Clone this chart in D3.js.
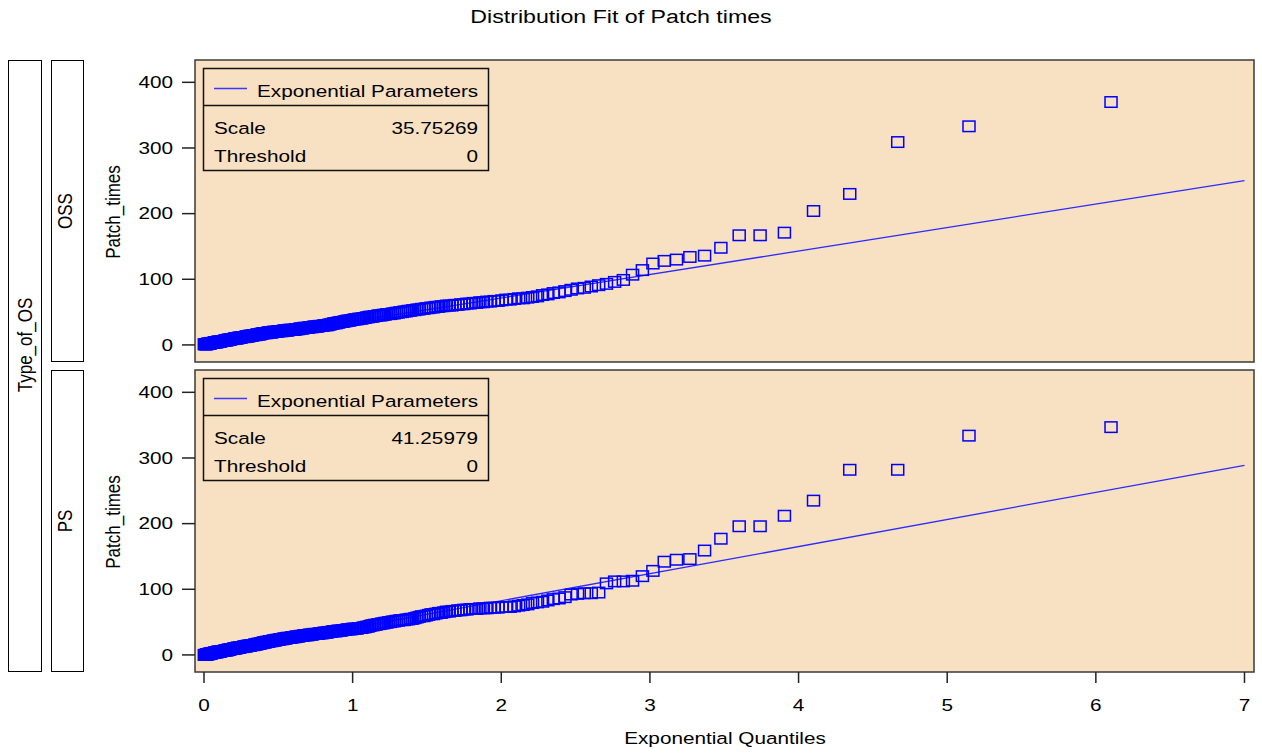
<!DOCTYPE html>
<html>
<head>
<meta charset="utf-8">
<script src="https://cdn.jsdelivr.net/npm/d3@7"></script>
<style>
body { margin: 0; background: #fff; }
text { font-family: "Liberation Sans", Arial, sans-serif; fill: #000; }
</style>
</head>
<body>
<svg id="chart" width="1262" height="754"></svg>
<script>
// panels, fitted exponential parameters
const groups = ["OSS", "PS"];
const scaleParams = [35.75269, 41.25979];
const thresholdParams = [0, 0];

// sorted patch times (one value per square)
const ossTimes = [
  1,1,1,1,1,1,2,2,2,2,2,2,3,3,3,3,3,3,4,4,4,4,4,4,5,5,5,5,5,5,6,6,6,6,6,6,7,7,7,7,7,8,
  8,8,8,8,9,9,9,9,9,10,10,10,10,10,10,11,11,11,11,11,12,12,12,12,12,12,13,13,13,13,13,
  14,14,14,14,14,15,15,15,15,15,16,16,16,16,16,17,17,17,
  18,18,18,18,18,18,19,19,19,19,19,19,20,20,20,20,20,20,21,21,21,21,21,21,22,22,22,22,22,22,
  23,23,23,23,23,23,23,
  24,24,24,24,25,25,25,25,26,26,26,26,26,27,27,27,27,28,28,28,28,28,29,29,29,29,30,30,30,30,
  31,31,32,32,33,33,33,34,34,35,35,35,36,36,37,37,37,38,38,39,39,39,40,40,40,
  41,41,42,42,43,43,43,44,44,45,45,45,46,46,47,47,47,48,48,
  49,49,50,50,51,51,52,52,53,
  53,54,54,55,55,56,56,57,57,58,58,59,59,60,60,
  60,61,61,62,62,63,63,64,64,65,65,66,66,
  67,67,68,69,69,70,71,71,72,
  73,74,76,77,79,80,82,84,
  86,87,89,91,
  93,96,99,107,114,124,128,130,134,136,148,167,167,171,204,230,309,333,370
];
const psTimes = [
  0,0,0,0,1,1,1,1,1,2,2,2,2,2,3,3,3,3,3,4,4,4,4,4,5,5,5,5,5,5,6,6,6,6,6,6,7,7,7,7,7,8,
  8,8,8,9,9,9,9,9,10,10,10,10,10,11,11,11,11,11,12,12,12,12,12,13,13,13,13,13,
  14,14,14,14,14,15,15,15,15,15,16,16,16,16,17,17,17,17,18,18,18,
  19,19,19,19,20,20,20,20,21,21,21,21,22,22,22,22,23,23,23,23,24,24,24,24,25,25,25,25,
  26,26,26,26,26,27,27,27,27,
  28,28,28,28,29,29,29,29,30,30,30,30,30,31,31,31,31,32,32,32,32,32,33,33,33,33,34,34,34,34,
  35,35,35,36,36,36,36,37,37,37,37,38,38,38,39,39,39,39,40,40,40,40,41,41,41,
  42,42,43,43,44,45,45,46,46,47,47,48,48,49,49,50,50,51,51,
  52,52,53,53,53,54,54,55,55,
  56,57,58,59,59,60,61,62,62,63,64,64,65,
  66,66,67,67,68,68,69,69,70,70,70,
  71,71,71,72,72,72,73,73,73,
  74,75,76,77,79,80,81,
  83,85,86,88,92,93,94,94,95,
  109,112,112,113,120,128,142,145,146,159,177,196,196,212,235,282,282,334,347
];
const seriesTimes = [ossTimes, psTimes];

const xTicks = [0, 1, 2, 3, 4, 5, 6, 7];
const yTicks = [0, 100, 200, 300, 400];

const title = "Distribution Fit of Patch times";
const xLabel = "Exponential Quantiles";
const yLabel = "Patch_times";
const stripLabel = "Type_of_OS";

// layout
const svg = d3.select("#chart");
const panelLeft = 195, panelRight = 1254;
const panelTops = [60, 370], panelH = 302;
const panelFill = "#F8E0C2";
const blue = "#0000FF";
const stretch = 1.22; // the reference text is drawn wide

const x = d3.scaleLinear().domain([-0.0605, 7.064]).range([panelLeft, panelRight]);

function wideText(g, str, tx, ty, size, anchor) {
  return g.append("text")
    .attr("transform", "translate(" + tx + "," + ty + ") scale(" + stretch + ",1)")
    .attr("text-anchor", anchor || "start")
    .attr("dominant-baseline", "central")
    .style("font-size", size + "px")
    .text(str);
}
function upText(g, str, tx, ty, size) {
  return g.append("text")
    .attr("transform", "translate(" + tx + "," + ty + ") rotate(-90) scale(1," + stretch + ")")
    .attr("text-anchor", "middle")
    .attr("dominant-baseline", "central")
    .style("font-size", size + "px")
    .text(str);
}

// title + x label
wideText(svg, title, 621, 16, 19, "middle");
wideText(svg, xLabel, 725, 738, 17, "middle");

// outer strip
svg.append("rect").attr("x", 8.5).attr("y", 60.5).attr("width", 33).attr("height", 611)
  .attr("fill", "#fff").attr("stroke", "#000").attr("stroke-width", 1);
upText(svg, stripLabel, 25, 345, 17);

groups.forEach(function(grp, k) {
  const top = panelTops[k];
  const y = d3.scaleLinear().domain([-26, 434]).range([top + panelH, top]);
  const times = seriesTimes[k];
  const n = times.length;
  const pts = times.map(function(v, i) {
    const p = (i + 1 - 0.375) / (n + 0.25);
    return { q: -Math.log(1 - p), v: v };
  });

  // inner strip
  svg.append("rect").attr("x", 51.5).attr("y", top + 0.5).attr("width", 32).attr("height", panelH - 1)
    .attr("fill", "#fff").attr("stroke", "#000").attr("stroke-width", 1);
  upText(svg, grp, 65, top + panelH / 2, 17);

  // y label
  upText(svg, yLabel, 113, top + panelH / 2 + 1, 17);

  const g = svg.append("g");
  g.append("rect").attr("x", panelLeft).attr("y", top).attr("width", panelRight - panelLeft).attr("height", panelH)
    .attr("fill", panelFill);

  // fitted line
  const th = thresholdParams[k], sc = scaleParams[k];
  g.append("line")
    .attr("x1", x(0)).attr("y1", y(th))
    .attr("x2", x(7)).attr("y2", y(th + sc * 7))
    .attr("stroke", "#2B2BFF").attr("stroke-width", 1.3);

  // squares
  g.selectAll("rect.pt").data(pts).enter().append("rect")
    .attr("class", "pt")
    .attr("x", function(d) { return x(d.q) - 6; })
    .attr("y", function(d) { return y(d.v) - 5.25; })
    .attr("width", 12).attr("height", 10.5)
    .attr("fill", "none").attr("stroke", blue).attr("stroke-width", 1.5);

  // legend box
  const lg = g.append("g");
  lg.append("rect").attr("x", 203.5).attr("y", top + 8.5).attr("width", 285).attr("height", 102)
    .attr("fill", "none").attr("stroke", "#111").attr("stroke-width", 1.5);
  lg.append("line").attr("x1", 203.5).attr("x2", 488.5).attr("y1", top + 45.5).attr("y2", top + 45.5)
    .attr("stroke", "#111").attr("stroke-width", 1.5);
  lg.append("line").attr("x1", 214).attr("x2", 247).attr("y1", top + 28.5).attr("y2", top + 28.5)
    .attr("stroke", "#3A3AFF").attr("stroke-width", 1.3);
  wideText(lg, "Exponential Parameters", 257, top + 31, 17);
  wideText(lg, "Scale", 214, top + 68.5, 17);
  wideText(lg, sc.toFixed(5), 478, top + 68.5, 17, "end");
  wideText(lg, "Threshold", 214, top + 96.5, 17);
  wideText(lg, String(th), 478, top + 96.5, 17, "end");

  // frame
  g.append("rect").attr("x", panelLeft).attr("y", top).attr("width", panelRight - panelLeft).attr("height", panelH)
    .attr("fill", "none").attr("stroke", "#3a3a3a").attr("stroke-width", 1.5);

  // y axis
  const ya = svg.append("g");
  yTicks.forEach(function(t) {
    ya.append("line").attr("x1", 182).attr("x2", panelLeft).attr("y1", y(t)).attr("y2", y(t))
      .attr("stroke", "#222").attr("stroke-width", 1.5);
    wideText(ya, String(t), 173, y(t), 17, "end");
  });
});

// x axis under lower panel
const xa = svg.append("g");
const axisTop = panelTops[1] + panelH;
xTicks.forEach(function(t) {
  xa.append("line").attr("x1", x(t)).attr("x2", x(t)).attr("y1", axisTop).attr("y2", axisTop + 11)
    .attr("stroke", "#222").attr("stroke-width", 1.5);
  wideText(xa, String(t), x(t), 705, 17, "middle");
});
</script>
</body>
</html>
